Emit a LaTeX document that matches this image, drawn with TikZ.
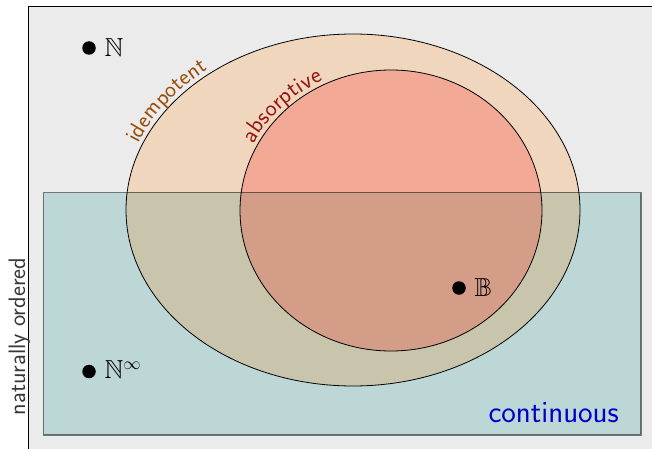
\documentclass[tikz,border=0pt]{standalone}
\usepackage{amssymb}
\usetikzlibrary{decorations.text}

\definecolor{bggray}{RGB}{235,235,235}
\definecolor{peach}{RGB}{240,214,188}
\definecolor{salmon}{RGB}{242,169,150}
\definecolor{tealbox}{RGB}{189,215,215}
\definecolor{peachteal}{RGB}{201,196,172}
\definecolor{salmonteal}{RGB}{211,157,136}
\definecolor{idcol}{RGB}{155,75,5}
\definecolor{abcol}{RGB}{150,20,20}
\definecolor{contcol}{RGB}{0,0,200}
\definecolor{sidecol}{RGB}{55,55,55}

\tikzset{
  elem/.style={circle, fill=black, inner sep=0pt, minimum size=13.5pt},
  elemname/.style={anchor=west, inner sep=0pt, font=\fontsize{26}{30}\selectfont},
  outline/.style={draw=black, line width=0.8pt},
  sidelabel/.style={font=\sffamily\fontsize{23.8}{28}\selectfont, inner sep=0pt},
}

\begin{document}
\begin{tikzpicture}[x=1pt, y=1pt]
  \clip (0,0) rectangle (652,448);

  % background frame
  \fill[bggray] (28.5,442) rectangle (700,-10);
  \draw[line width=0.8pt] (28.5,-10) -- (28.5,442) -- (700,442);

  % idempotent and absorptive regions
  \fill[peach] (353,238) ellipse [x radius=227, y radius=176];
  \fill[salmon] (391,237.5) ellipse [x radius=151, y radius=140.5];

  % continuous region, overlapping the ellipses
  \begin{scope}
    \clip (43.3,13) rectangle (641,255.5);
    \fill[tealbox] (43.3,13) rectangle (641,255.5);
    \fill[peachteal] (353,238) ellipse [x radius=227, y radius=176];
    \fill[salmonteal] (391,237.5) ellipse [x radius=151, y radius=140.5];
  \end{scope}

  \draw[outline] (353,238) ellipse [x radius=227, y radius=176];
  \draw[outline] (391,237.5) ellipse [x radius=151, y radius=140.5];
  \draw[black, draw opacity=0.5, line width=1.3pt] (43.3,13) rectangle (641,255.5);

  % labels along the ellipse arcs
  \path[decorate, decoration={text along path, text align=center, raise=4pt,
        text color=idcol,
        text={|\sffamily\fontsize{23}{27}\selectfont|idempotent}}]
    (353,238) ++(163:227 and 176) arc [start angle=163, end angle=125,
        x radius=227, y radius=176];
  \path[decorate, decoration={text along path, text align=center, raise=4pt,
        text color=abcol,
        text={|\sffamily\fontsize{23.5}{27}\selectfont|absorptive}}]
    (391,237.5) ++(157:151 and 140.5) arc [start angle=157, end angle=112,
        x radius=151, y radius=140.5];

  % region labels
  \node[sidelabel, text=contcol, anchor=base east,
        font=\sffamily\fontsize{30.9}{36}\selectfont] (cont) at (619,26) {continuous};
  \node[sidelabel, text=sidecol, rotate=90, anchor=base] (natord) at (25,111.5) {naturally ordered};

  % elements
  \node[elem] (dN) at (89,400) {};
  \node[elemname] (lN) at (104.5,400) {$\mathbb{N}$};
  \node[elem] (dNinf) at (89,76.5) {};
  \node[elemname] (lNinf) at (104.5,78.5) {$\mathbb{N}^{\infty}$};
  \node[elem] (dB) at (459,160) {};
  \node[elemname] (lB) at (474.5,160) {$\mathbb{B}$};
\end{tikzpicture}
\end{document}
